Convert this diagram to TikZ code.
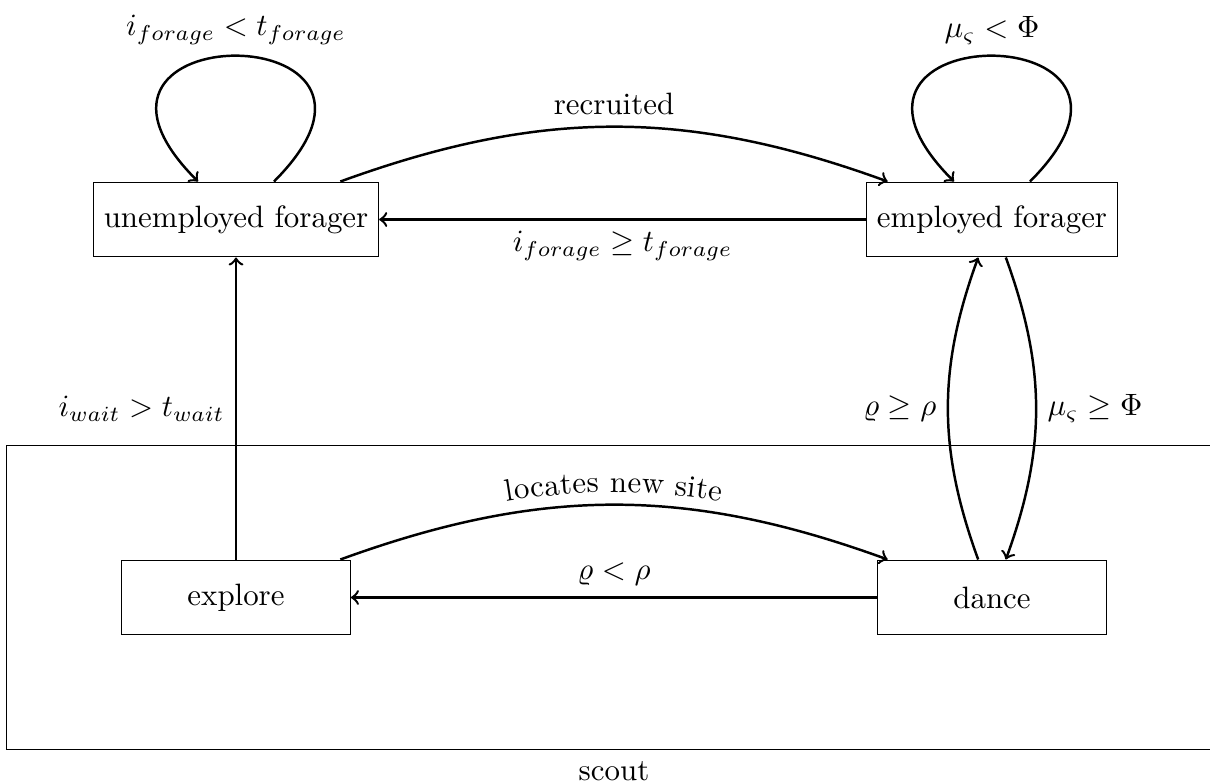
\documentclass[tikz,border=0pt]{standalone}
\usepackage{amsmath,amssymb}
\usepackage{tikz}
\usetikzlibrary{positioning,fit,decorations.text}

\begin{document}
\begin{tikzpicture}[state/.style={draw, minimum width=2.6cm, minimum height=0.85cm},
    trans/.style={->, thick}]
    \useasboundingbox (-2.685,-6.388) rectangle (11.08,2.497);
    \node[state] (unemployed) at (0,0) {unemployed forager};
    \node[state] (employed) at (8.6,0) {employed forager};
    \node[state] (explore) at (0,-4.3) {explore};
    \node[state] (dance) at (8.6,-4.3) {dance};
    \node[draw, fit=(explore)(dance), inner sep=1.3cm] (scout) {}; % scout box
    \node[below=0pt of scout] (scoutlabel) {scout};

    \draw[trans] (unemployed) to[out=45, in=135, looseness=8] node[above] {$i_{forage} < t_{forage}$} (unemployed);
    \draw[trans] (employed) to[out=45, in=135, looseness=8] node[above] {$\mu_{\varsigma} < \Phi$} (employed);
    \draw[trans] (unemployed) to[bend left=20] node[above] {recruited} (employed);
    \draw[trans] (employed) -- node[below] {$i_{forage} \geq t_{forage}$} (unemployed);
    \draw[trans] (explore) -- node[left] {$i_{wait} > t_{wait}$} (unemployed);
    \draw[trans, postaction={decorate}, decoration={text along path, text={locates new site}, text align=center, raise=4pt}] (explore) to[bend left=20] (dance);
    \draw[trans] (dance) -- node[above] {$\varrho < \rho$} (explore);
    \draw[trans] (dance) to[bend left=20] node[left] {$\varrho \geq \rho$} (employed);
    \draw[trans] (employed) to[bend left=20] node[right] {$\mu_{\varsigma} \geq \Phi$} (dance);
\end{tikzpicture}
\end{document}
